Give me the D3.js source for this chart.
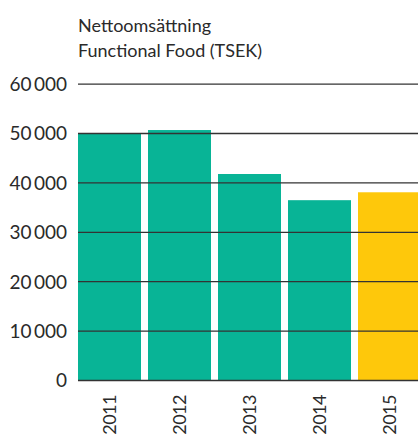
<!DOCTYPE html>
<html><head><meta charset="utf-8">
<script src="https://cdn.jsdelivr.net/npm/d3@7"></script>
<style>
html,body{margin:0;padding:0;background:#fff;}
svg{display:block;font-family:"Lato","Open Sans",sans-serif;}
</style></head>
<body>
<svg id="chart" width="418" height="435"></svg>
<script>
const years = ["2011","2012","2013","2014","2015"];
const values = [49800, 50600, 41700, 36400, 38000];
const barColors = ["#08b496","#08b496","#08b496","#08b496","#fec80b"];
const yTicks = [0,10000,20000,30000,40000,50000,60000];
const titleLines = ["Nettoomsättning","Functional Food (TSEK)"];

const svg = d3.select("#chart");
const left = 78, right = 418;
const x = d3.scaleBand().domain(years).range([78, 421]).paddingInner(0.1).paddingOuter(0);
const y = d3.scaleLinear().domain([0, 60000]).range([380, 83.6]);

svg.append("g").selectAll("rect").data(years).join("rect")
  .attr("x", d => x(d))
  .attr("y", (d,i) => y(values[i]))
  .attr("width", x.bandwidth())
  .attr("height", (d,i) => y(0) - y(values[i]))
  .attr("fill", (d,i) => barColors[i]);

const fmt = v => v === 0 ? "0" : d3.format(",")(v).replace(",", "\u2009");

const yAxis = d3.axisLeft(y).tickValues(yTicks).tickSize(-(right-left)).tickFormat(fmt);
const gy = svg.append("g").attr("transform", `translate(${left},0)`).call(yAxis);
gy.select(".domain").remove();
gy.selectAll(".tick line").attr("stroke", "#333").attr("stroke-width", 1.3);
gy.selectAll(".tick text").attr("x", -11).attr("dy", "0.36em")
  .attr("fill", "#2a2a2a").style("font-size", "19px").style("font-family", "Lato, sans-serif");

const xAxis = d3.axisBottom(x).tickSize(0);
const gx = svg.append("g").attr("transform", `translate(0,380)`).call(xAxis);
gx.select(".domain").remove();
gx.selectAll(".tick text")
  .attr("transform", "rotate(-90)")
  .attr("x", -15).attr("y", 0).attr("dy", "0.36em")
  .attr("text-anchor", "end")
  .attr("fill", "#2a2a2a").style("font-size", "18px").style("letter-spacing", "-0.5px")
  .style("font-family", "Lato, sans-serif");

svg.append("g").selectAll("text").data(titleLines).join("text")
  .attr("x", left).attr("y", (d,i) => 32 + i*25)
  .attr("fill", "#2a2a2a").style("font-size", "18px").style("font-family", "Lato, sans-serif")
  .text(d => d);
</script>
</body></html>
